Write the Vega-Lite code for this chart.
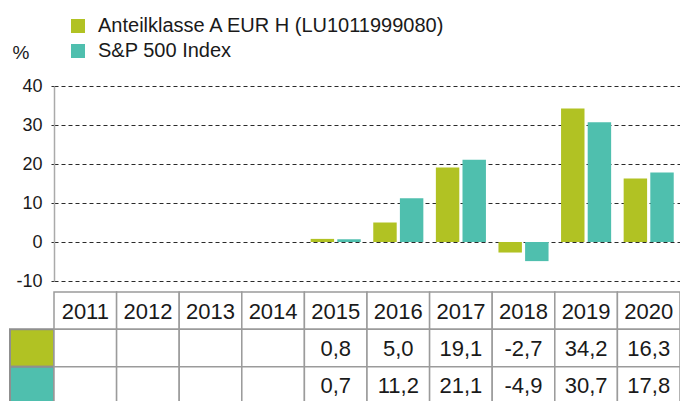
{
  "$schema": "https://vega.github.io/schema/vega-lite/v6.json",
  "autosize": {"type": "pad"},
  "padding": {"left": 9, "top": 16, "right": 0, "bottom": 0},
  "datasets": {
    "perf": [
      {"year": 2011, "series": "Anteilklasse A EUR H (LU1011999080)", "value": null},
      {"year": 2012, "series": "Anteilklasse A EUR H (LU1011999080)", "value": null},
      {"year": 2013, "series": "Anteilklasse A EUR H (LU1011999080)", "value": null},
      {"year": 2014, "series": "Anteilklasse A EUR H (LU1011999080)", "value": null},
      {"year": 2015, "series": "Anteilklasse A EUR H (LU1011999080)", "value": 0.8},
      {"year": 2016, "series": "Anteilklasse A EUR H (LU1011999080)", "value": 5.0},
      {"year": 2017, "series": "Anteilklasse A EUR H (LU1011999080)", "value": 19.1},
      {"year": 2018, "series": "Anteilklasse A EUR H (LU1011999080)", "value": -2.7},
      {"year": 2019, "series": "Anteilklasse A EUR H (LU1011999080)", "value": 34.2},
      {"year": 2020, "series": "Anteilklasse A EUR H (LU1011999080)", "value": 16.3},
      {"year": 2011, "series": "S&P 500 Index", "value": null},
      {"year": 2012, "series": "S&P 500 Index", "value": null},
      {"year": 2013, "series": "S&P 500 Index", "value": null},
      {"year": 2014, "series": "S&P 500 Index", "value": null},
      {"year": 2015, "series": "S&P 500 Index", "value": 0.7},
      {"year": 2016, "series": "S&P 500 Index", "value": 11.2},
      {"year": 2017, "series": "S&P 500 Index", "value": 21.1},
      {"year": 2018, "series": "S&P 500 Index", "value": -4.9},
      {"year": 2019, "series": "S&P 500 Index", "value": 30.7},
      {"year": 2020, "series": "S&P 500 Index", "value": 17.8}
    ]
  },
  "columns": 2,
  "bounds": "flush",
  "spacing": {"row": 11, "column": 0},
  "resolve": {"scale": {"color": "shared"}},
  "concat": [
    {
      "width": 44,
      "height": 195,
      "data": {"values": [{}]},
      "mark": {"type": "point", "opacity": 0},
      "encoding": {}
    },
    {
      "width": 626,
      "height": 195,
      "data": {"name": "perf"},
      "mark": {"type": "bar"},
      "encoding": {
        "x": {
          "field": "year",
          "type": "ordinal",
          "scale": {"domain": [2011, 2012, 2013, 2014, 2015, 2016, 2017, 2018, 2019, 2020], "paddingInner": 0.2, "paddingOuter": 0.1},
          "axis": null
        },
        "xOffset": {
          "field": "series",
          "type": "nominal",
          "scale": {"domain": ["Anteilklasse A EUR H (LU1011999080)", "S&P 500 Index"], "paddingInner": 0.12}
        },
        "y": {
          "field": "value",
          "type": "quantitative",
          "scale": {"domain": [-10, 40], "nice": false, "zero": false},
          "axis": {
            "values": [-10, 0, 10, 20, 30, 40],
            "grid": true,
            "gridDash": [4, 3],
            "gridColor": "#2a2a2a",
            "gridWidth": 1,
            "domainColor": "#aaaaaa",
            "domainWidth": 1.5,
            "ticks": true,
            "tickSize": 3,
            "tickColor": "#2a2a2a",
            "labelFontSize": 18,
            "labelPadding": 9,
            "labelColor": "#1a1a1a",
            "title": "%",
            "titleAngle": 0,
            "titleX": -42,
            "titleY": -34,
            "titleAlign": "left",
            "titleBaseline": "middle",
            "titleFontSize": 19,
            "titleFontWeight": "normal",
            "titleColor": "#1a1a1a"
          }
        },
        "color": {
          "field": "series",
          "type": "nominal",
          "scale": {"domain": ["Anteilklasse A EUR H (LU1011999080)", "S&P 500 Index"], "range": ["#b1c223", "#4fbfae"]},
          "legend": {
            "orient": "none",
            "legendX": 58,
            "legendY": -70,
            "title": null,
            "direction": "vertical",
            "symbolType": "square",
            "symbolSize": 196,
            "symbolStrokeWidth": 0,
            "symbolOpacity": 1,
            "labelFontSize": 20,
            "labelOffset": 10,
            "labelLimit": 0,
            "labelColor": "#1a1a1a",
            "rowPadding": 5
          }
        }
      }
    },
    {
      "width": 44,
      "height": 112,
      "data": {"name": "perf"},
      "transform": [{"filter": "datum.year == 2015"}],
      "mark": {"type": "rect", "stroke": "#8f8f8f", "strokeWidth": 2},
      "encoding": {
        "x": {"datum": "swatch", "type": "nominal", "scale": {"paddingInner": 0, "paddingOuter": 0}, "axis": null},
        "y": {
          "field": "series",
          "type": "nominal",
          "scale": {"domain": ["Jahr", "Anteilklasse A EUR H (LU1011999080)", "S&P 500 Index"], "paddingInner": 0, "paddingOuter": 0},
          "axis": null
        },
        "color": {"field": "series", "type": "nominal", "legend": null}
      }
    },
    {
      "width": 626,
      "height": 112,
      "data": {"name": "perf"},
      "encoding": {
        "x": {
          "field": "year",
          "type": "ordinal",
          "scale": {"domain": [2011, 2012, 2013, 2014, 2015, 2016, 2017, 2018, 2019, 2020], "paddingInner": 0, "paddingOuter": 0},
          "axis": null
        }
      },
      "layer": [
        {
          "transform": [{"filter": "datum.series == 'S&P 500 Index'"}],
          "mark": {"type": "rect", "fill": "white", "stroke": "#9b9b9b", "strokeWidth": 1.5},
          "encoding": {
            "y": {
              "datum": "Jahr",
              "type": "nominal",
              "scale": {"domain": ["Jahr", "Anteilklasse A EUR H (LU1011999080)", "S&P 500 Index"], "paddingInner": 0, "paddingOuter": 0},
              "axis": null
            }
          }
        },
        {
          "mark": {"type": "rect", "fill": "white", "stroke": "#9b9b9b", "strokeWidth": 1.5},
          "encoding": {
            "y": {"field": "series", "type": "nominal", "axis": null}
          }
        },
        {
          "transform": [{"filter": "datum.series == 'S&P 500 Index'"}],
          "mark": {"type": "text", "fontSize": 22, "color": "#1a1a1a", "align": "center", "baseline": "middle", "dy": 1},
          "encoding": {
            "y": {"datum": "Jahr", "type": "nominal", "axis": null},
            "text": {"field": "year", "type": "nominal"}
          }
        },
        {
          "transform": [{"filter": "isValid(datum.value)"}],
          "mark": {"type": "text", "fontSize": 22, "color": "#1a1a1a", "align": "center", "baseline": "middle", "dy": 1},
          "encoding": {
            "y": {"field": "series", "type": "nominal", "axis": null},
            "text": {"field": "value", "type": "quantitative", "format": ".1f"}
          }
        }
      ]
    }
  ],
  "config": {
    "font": "Liberation Sans",
    "view": {"stroke": null},
    "locale": {
      "number": {"decimal": ",", "thousands": ".", "grouping": [3], "currency": ["", " €"], "minus": "-"}
    }
  }
}
